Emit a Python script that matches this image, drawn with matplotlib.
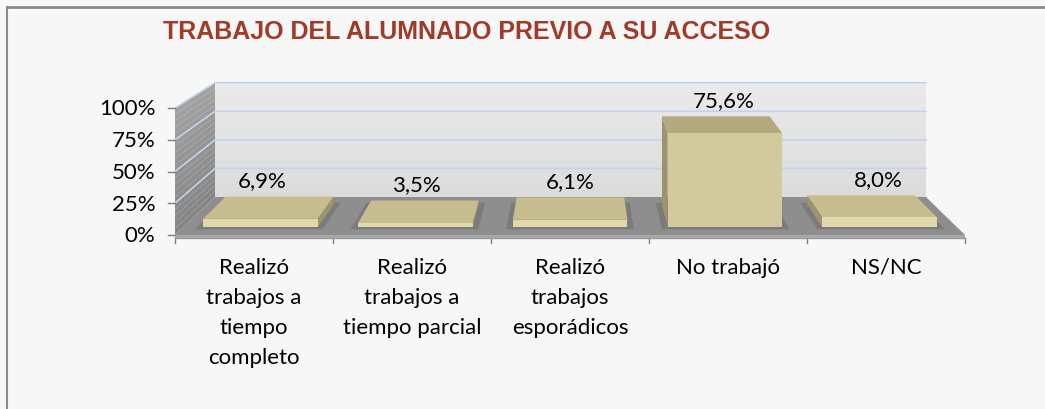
import matplotlib
matplotlib.use("Agg")
import matplotlib.pyplot as plt
from matplotlib.patches import Polygon

categories = ["Realizó\ntrabajos a\ntiempo\ncompleto",
              "Realizó\ntrabajos a\ntiempo parcial",
              "Realizó\ntrabajos\nesporádicos",
              "No trabajó",
              "NS/NC"]
values = [6.9, 3.5, 6.1, 75.6, 8.0]
value_labels = ["6,9%", "3,5%", "6,1%", "75,6%", "8,0%"]
yticks = [0, 25, 50, 75, 100]
ytick_labels = ["0%", "25%", "50%", "75%", "100%"]
title = "TRABAJO DEL ALUMNADO PREVIO A SU ACCESO"

W, H = 1045, 409
fig = plt.figure(figsize=(W / 100, H / 100), dpi=100, facecolor="#f7f7f7")

# front plane of the 3D box in pixels
fx0, fx1 = 175, 965
fy0, fy100 = 235, 108
ax = fig.add_axes([fx0 / W, (H - fy0) / H, (fx1 - fx0) / W, (fy0 - fy100) / H])
ax.set_xlim(-0.5, len(values) - 0.5)
ax.set_ylim(0, 100)
ax.axis("off")
ax.patch.set_alpha(0)

# perspective centre (data coords) and depth shrink
px_per_x = (fx1 - fx0) / len(values)
px_per_v = (fy0 - fy100) / 100
CX = -0.5 + (575 - fx0) / px_per_x
CV = (fy0 - (-145)) / px_per_v
SHRINK = 0.10


def P(x, v, d):
    s = 1 - SHRINK * d
    return (CX + s * (x - CX), CV + s * (v - CV))


def poly(pts, color, z, ec="none", lw=0):
    ax.add_patch(Polygon(pts, closed=True, facecolor=color, edgecolor=ec,
                         linewidth=lw, zorder=z, clip_on=False))


x0, x1 = -0.5, len(values) - 0.5
# back wall
n = 20
for k in range(n):
    va, vb = 100 * k / n, 100 * (k + 1) / n
    c = 0.86 + 0.06 * (k / n)
    poly([P(x0, va, 1), P(x1, va, 1), P(x1, vb, 1), P(x0, vb, 1)], (c, c, c), 1)
# side wall
for k in range(n):
    va, vb = 100 * k / n, 100 * (k + 1) / n
    c = 0.52 + 0.12 * (k / n)
    poly([P(x0, va, 0), P(x0, va, 1), P(x0, vb, 1), P(x0, vb, 0)], (c, c, c), 1)
# gridlines
for t in yticks[1:]:
    a, b, c = P(x0, t, 0), P(x0, t, 1), P(x1, t, 1)
    ax.plot([a[0], b[0], c[0]], [a[1], b[1], c[1]], color="#c4d4e8", lw=1.2,
            zorder=2, clip_on=False, solid_joinstyle="miter")
# floor
poly([P(x0, 0, 0), P(x1, 0, 0), P(x1, 0, 1), P(x0, 0, 1)], "#8e8e8e", 2)
poly([P(x0, 0, 0), P(x1, 0, 0), P(x1, -2.2, 0), P(x0, -2.2, 0)], "#a9a9a9", 2)

# axis ticks
for t in yticks:
    a = P(x0, t, 0)
    ax.plot([a[0] - 7 / px_per_x, a[0]], [a[1], a[1]], color="#808080", lw=1,
            zorder=3, clip_on=False)
for i in range(len(values) + 1):
    xx = -0.5 + i
    ax.plot([xx, xx], [-2.2, -6.0], color="#808080", lw=1, zorder=3, clip_on=False)
ax.plot([x0, x1], [-2.2, -2.2], color="#9a9a9a", lw=1, zorder=3, clip_on=False)

font = ["Lato", "DejaVu Sans"]
FS = 16
for t, lab in zip(yticks, ytick_labels):
    a = P(x0, t, 0)
    ax.annotate(lab, (a[0], t), xytext=(-14, -1), textcoords="offset points",
                ha="right", va="center", fontsize=FS, family=font,
                color="#000000", annotation_clip=False)

# bars
hw = 0.37
d0, d1 = 0.2, 0.8
front_c, top_c, side_c = "#d3c99f", "#b3a97f", "#9d946d"
for i, v in enumerate(values):
    xl, xr = i - hw, i + hw
    # shadow on floor
    poly([P(xl - 0.04, 0, d0 - 0.05), P(xr + 0.04, 0, d0 - 0.05),
          P(xr + 0.04, 0, d1 + 0.05), P(xl - 0.04, 0, d1 + 0.05)], "#7b7b7b", 3)
    # visible side
    xs = xl if i > CX else xr
    poly([P(xs, 0, d0), P(xs, 0, d1), P(xs, v, d1), P(xs, v, d0)], side_c, 4)
    # top
    tc = top_c if v > 20 else "#c8bd90"
    poly([P(xl, v, d0), P(xr, v, d0), P(xr, v, d1), P(xl, v, d1)], tc, 5)
    # front
    fc = front_c if v > 20 else "#e0d7ad"
    poly([P(xl, 0, d0), P(xr, 0, d0), P(xr, v, d0), P(xl, v, d0)], fc, 6)

    lx = P(i, v, 0.25)[0]
    ly = P(i, v, d1)[1]
    ax.annotate(value_labels[i], (lx, ly), xytext=(0, 4),
                textcoords="offset points", ha="center", va="bottom",
                fontsize=FS, family=font, color="#000000", zorder=10,
                annotation_clip=False)

for i, c in enumerate(categories):
    ax.annotate(c, (i, -6.0), xytext=(0, -11), textcoords="offset points",
                ha="center", va="top", fontsize=FS, family=font,
                color="#000000", linespacing=1.62, annotation_clip=False)

fig.text(163 / W, 1 - 32 / H, title, ha="left", va="center", fontsize=18,
         fontweight="bold", color="#a13a28",
         family=["Liberation Sans Narrow", "Liberation Sans", "DejaVu Sans"])

# chart border (top and left visible)
fig.add_artist(plt.Line2D([7 / W, 1], [1 - 7 / H, 1 - 7 / H], color="#8a8a8a",
                          lw=2, transform=fig.transFigure))
fig.add_artist(plt.Line2D([7 / W, 7 / W], [0, 1 - 7 / H], color="#8a8a8a",
                          lw=1.5, transform=fig.transFigure))

fig.savefig("out.png", dpi=100, facecolor=fig.get_facecolor())
